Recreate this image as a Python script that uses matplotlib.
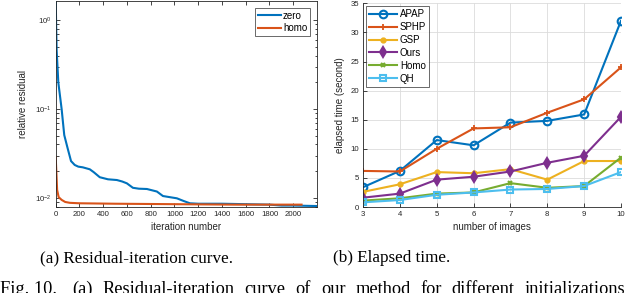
import matplotlib
matplotlib.use("Agg")
import matplotlib.pyplot as plt
from matplotlib.ticker import LogLocator, NullFormatter, FixedLocator

# ---- data: residual curves ----
zero_iter = [0, 3, 8, 22, 50, 72, 101, 129, 160, 190, 228, 287, 320, 371, 440, 515, 560,
             599, 650, 700, 768, 852, 903, 960, 1020, 1080, 1130, 1200, 1400, 1600, 1800,
             1900, 2000, 2200]
zero_val = [2.0, 1.0, 0.46, 0.2, 0.1, 0.051, 0.036, 0.026, 0.0235, 0.0225, 0.0221, 0.0210,
            0.0195, 0.0171, 0.0162, 0.0159, 0.0153, 0.0146, 0.0130, 0.0127, 0.0126, 0.0118,
            0.0105, 0.0102, 0.0099, 0.0092, 0.0087, 0.0086, 0.0086, 0.0085, 0.0084, 0.0082,
            0.0082, 0.0081]
homo_iter = [0, 12, 25, 50, 80, 120, 200, 500, 1000, 1500, 2070]
homo_val = [0.029, 0.0123, 0.0102, 0.0095, 0.0090, 0.0088, 0.0087, 0.0086, 0.0085, 0.0084, 0.0084]

# ---- data: elapsed time ----
n_images = [3, 4, 5, 6, 7, 8, 9, 10]
apap = [3.4, 6.2, 11.5, 10.6, 14.5, 14.8, 15.9, 32.0]
sphp = [6.2, 6.1, 10.0, 13.5, 13.7, 16.2, 18.5, 24.0]
gsp = [2.6, 3.9, 6.0, 5.8, 6.5, 4.7, 7.9, 7.9]
ours = [1.6, 2.3, 4.7, 5.2, 6.1, 7.6, 8.8, 15.5]
homo_t = [1.1, 1.5, 2.3, 2.5, 4.1, 3.3, 3.6, 8.5]
qh = [0.8, 1.2, 2.1, 2.5, 3.0, 3.1, 3.6, 6.0]

C = ['#0072BD', '#D95319', '#EDB120', '#7E2F8E', '#77AC30', '#4DBEEE']
TXT = '#262626'
plt.rcParams['font.family'] = ['Liberation Sans', 'DejaVu Sans']
plt.rcParams['mathtext.fontset'] = 'custom'
plt.rcParams['mathtext.rm'] = 'Liberation Sans'
plt.rcParams['mathtext.it'] = 'Liberation Sans'
plt.rcParams['font.size'] = 7
TICK_FS = 5.6

fig = plt.figure(figsize=(6.4, 2.93), dpi=100)
W, H = 640, 293

def ax_rect(x0, y0, x1, y1):
    return [x0 / W, 1 - y1 / H, (x1 - x0) / W, (y1 - y0) / H]

# ---- left axes ----
ax1 = fig.add_axes(ax_rect(55.7, 1, 317, 207))
ax1.semilogy(zero_iter, zero_val, color=C[0], lw=1.5, label='zero')
ax1.semilogy(homo_iter, homo_val, color=C[1], lw=1.5, label='homo')
ax1.set_xlim(0, 2200)
ax1.set_ylim(0.0079, 1.65)
ax1.xaxis.set_major_locator(FixedLocator(list(range(0, 2001, 200))))
ax1.yaxis.set_major_locator(LogLocator(base=10, numticks=10))
ax1.yaxis.set_minor_locator(LogLocator(base=10, subs=range(2, 10), numticks=20))
ax1.yaxis.set_minor_formatter(NullFormatter())
ax1.tick_params(which='both', direction='in', top=True, right=True, colors=TXT,
                labelsize=TICK_FS, width=0.6, pad=3)
ax1.tick_params(which='major', length=3)
ax1.tick_params(which='minor', length=1.8)
ax1.set_xlabel('iteration number', fontsize=7, color=TXT, labelpad=2.5)
ax1.set_ylabel('relative residual', fontsize=7, color=TXT, labelpad=5)
for s in ax1.spines.values():
    s.set_color(TXT)
    s.set_linewidth(0.6)
leg1 = ax1.legend(loc='upper right', fontsize=7, frameon=True, fancybox=False,
                  edgecolor=TXT, handlelength=2.4, handletextpad=0.2, borderpad=0.25,
                  labelspacing=0.25, borderaxespad=0.75)
leg1.get_frame().set_linewidth(0.6)

# ---- right axes ----
ax2 = fig.add_axes(ax_rect(363, 3.3, 621, 207))
ax2.plot(n_images, apap, color=C[0], lw=1.5, marker='o', ms=5.5, mfc='none', mew=1.5, label='APAP')
ax2.plot(n_images, sphp, color=C[1], lw=1.5, marker='+', ms=5, mew=1.3, label='SPHP')
ax2.plot(n_images, gsp, color=C[2], lw=1.5, marker='.', ms=7, label='GSP')
ax2.plot(n_images, ours, color=C[3], lw=1.5, marker='d', ms=5, mew=1.5, label='Ours')
ax2.plot(n_images, homo_t, color=C[4], lw=1.5, marker='x', ms=3.5, mew=1.5, label='Homo')
ax2.plot(n_images, qh, color=C[5], lw=1.5, marker='s', ms=4.5, mfc='none', mew=1.5, label='QH')
ax2.set_xlim(3, 10)
ax2.set_ylim(0, 35)
ax2.set_xticks(n_images)
ax2.set_yticks(range(0, 36, 5))
ax2.grid(True, color='#dcdcdc', lw=0.6)
ax2.set_axisbelow(True)
ax2.tick_params(direction='in', colors=TXT, labelsize=TICK_FS, length=3, width=0.6, pad=3)
ax2.set_xlabel('number of images', fontsize=7, color=TXT, labelpad=2.5)
ax2.set_ylabel('elapsed time (second)', fontsize=7, color=TXT, labelpad=4)
for k in ('top', 'right'):
    ax2.spines[k].set_visible(False)
for k in ('left', 'bottom'):
    ax2.spines[k].set_color(TXT)
    ax2.spines[k].set_linewidth(0.6)
leg2 = ax2.legend(loc='upper left', fontsize=7, frameon=True, fancybox=False,
                  edgecolor=TXT, handlelength=2.9, handletextpad=0.3, borderpad=0.3,
                  labelspacing=0.3, borderaxespad=0.3)
leg2.get_frame().set_linewidth(0.6)

# ---- captions ----
serif = ['Liberation Serif', 'DejaVu Serif']
CAP_FS = 12.3
fig.text(137 / W, 1 - 262 / H, '(a) Residual-iteration curve.', ha='center', va='baseline',
         fontsize=CAP_FS, family=serif, color='black')
fig.text(392 / W, 1 - 262 / H, '(b) Elapsed time.', ha='center', va='baseline',
         fontsize=CAP_FS, family=serif, color='black')

# justified figure-caption line (cut by the bottom edge, as in the source)
FIG_FS = 13.2
renderer = fig.canvas.get_renderer()
base_y = 1 - 294 / H
fig.text(0 / W, base_y, 'Fig. 10.', ha='left', va='baseline',
         fontsize=FIG_FS, family=serif, color='black')
words = ['(a)', 'Residual-iteration', 'curve', 'of', 'our', 'method', 'for', 'different',
         'initializations']
x = 72.0
for w in words:
    t = fig.text(x / W, base_y, w, ha='left', va='baseline',
                 fontsize=FIG_FS, family=serif, color='black')
    bb = t.get_window_extent(renderer=renderer)
    x = bb.x1 + 10.0

fig.savefig('out.png', dpi=100)
